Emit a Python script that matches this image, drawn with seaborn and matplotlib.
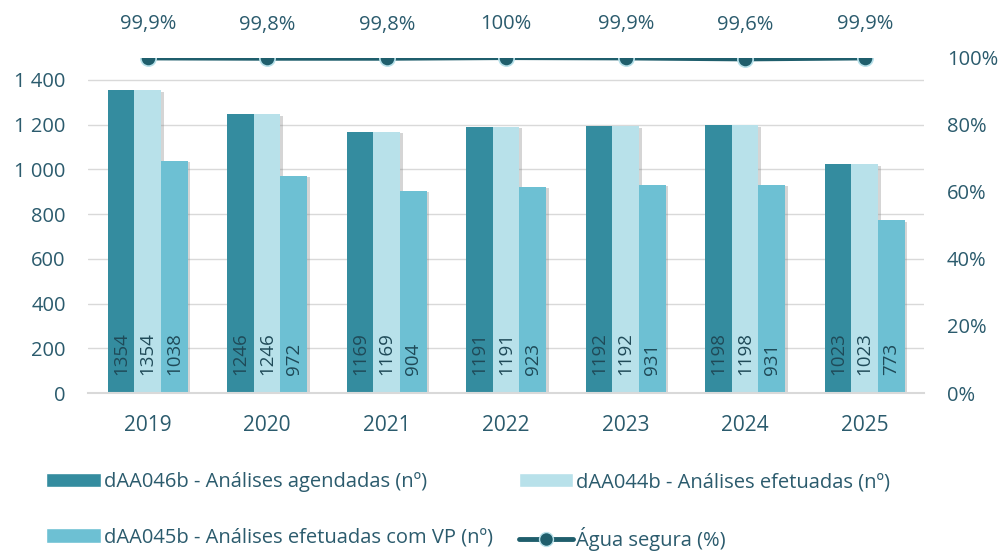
import numpy as np
import pandas as pd
import seaborn as sns
import matplotlib.pyplot as plt
import matplotlib.patheffects as pe
from matplotlib.patches import Patch
from matplotlib.lines import Line2D
from matplotlib.ticker import FuncFormatter

# Data
anos = ["2019", "2020", "2021", "2022", "2023", "2024", "2025"]
agendadas = [1354, 1246, 1169, 1191, 1192, 1198, 1023]
efetuadas = [1354, 1246, 1169, 1191, 1192, 1198, 1023]
efetuadas_vp = [1038, 972, 904, 923, 931, 931, 773]
agua_segura = [99.9, 99.8, 99.8, 100, 99.9, 99.6, 99.9]
agua_labels = ["99,9%", "99,8%", "99,8%", "100%", "99,9%", "99,6%", "99,9%"]

series = ["dAA046b - Análises agendadas (nº)",
          "dAA044b - Análises efetuadas (nº)",
          "dAA045b - Análises efetuadas com VP (nº)"]
line_name = "Água segura (%)"

cores = ["#348C9F", "#B8E1EA", "#6DC0D3"]
cor_linha = "#1F5E6C"
cor_texto = "#2B5B6D"

df = pd.DataFrame({
    "ano": anos * 3,
    "valor": agendadas + efetuadas + efetuadas_vp,
    "serie": [series[0]] * 7 + [series[1]] * 7 + [series[2]] * 7,
})

sns.set_theme(style="white")
plt.rcParams['font.family'] = ['Open Sans', 'DejaVu Sans']

fig = plt.figure(figsize=(10.03, 5.54), dpi=100)
ax = fig.add_axes([0.0877, 0.2906, 0.834, 0.6054])

sns.barplot(data=df, x="ano", y="valor", hue="serie", palette=cores,
            saturation=1, width=0.667, ax=ax, legend=False, edgecolor="none")

shadow = [pe.SimplePatchShadow(offset=(2, -1), shadow_rgbFace="#888888", alpha=0.35), pe.Normal()]
for cont in ax.containers:
    for bar in cont:
        bar.set_path_effects(shadow)
        h = bar.get_height()
        ax.text(bar.get_x() + bar.get_width() / 2, 80, f"{h:.0f}",
                rotation=90, ha="center", va="bottom", fontsize=13.5,
                color="#1F4A58")

ax.set_xlim(-0.5, 6.5)
ax.set_ylim(0, 1500)
ax.set_yticks(range(0, 1401, 200))
ax.yaxis.set_major_formatter(FuncFormatter(lambda v, p: f"{int(v):,}".replace(",", " ")))
ax.grid(axis="y", color="#D9D9D9", linewidth=1)
ax.set_axisbelow(True)
for s in ["top", "right", "left"]:
    ax.spines[s].set_visible(False)
ax.spines["bottom"].set_color("#D9D9D9")
ax.spines["bottom"].set_linewidth(1.5)
ax.set_xlabel("")
ax.set_ylabel("")
ax.tick_params(axis="x", length=0, labelsize=15, colors=cor_texto, pad=16)
ax.tick_params(axis="y", length=0, labelsize=14.5, colors=cor_texto, pad=16)

ax2 = ax.twinx()
x = np.arange(len(anos))
sns.lineplot(x=x, y=np.array(agua_segura) / 100, ax=ax2, color=cor_linha,
             linewidth=3.5, marker="o", markersize=11,
             markeredgecolor="#B8E1EA", markeredgewidth=1.2)
ax2.set_ylim(0, 1.0)
ax2.set_yticks(np.arange(0, 1.01, 0.2))
ax2.yaxis.set_major_formatter(FuncFormatter(lambda v, p: f"{v*100:.0f}%"))
ax2.tick_params(axis="y", length=0, labelsize=14.5, colors=cor_texto, pad=16)
for s in ax2.spines.values():
    s.set_visible(False)
ax2.set_ylabel("")
ax2.grid(False)

for xi, yi, lab in zip(x, agua_segura, agua_labels):
    ax2.annotate(lab, (xi, yi / 100), xytext=(0, 17), textcoords="offset points",
                 ha="center", va="bottom", fontsize=14.5, color=cor_texto)

# legend (column-major ordering)
handles = [
    Patch(facecolor=cores[0], label=series[0]),
    Patch(facecolor=cores[2], label=series[2]),
    Patch(facecolor=cores[1], label=series[1]),
    Line2D([0], [0], color=cor_linha, linewidth=3.5, marker="o", markersize=10,
           markeredgecolor="#B8E1EA", label=line_name),
]
leg = fig.legend(handles=handles, loc="lower left", bbox_to_anchor=(0.028, -0.028),
                 ncol=2, frameon=False, fontsize=14.5, handlelength=2.7,
                 handleheight=0.72, handletextpad=0.15, labelspacing=1.75,
                 columnspacing=1.3)
for t in leg.get_texts():
    t.set_color(cor_texto)

fig.savefig("out.png", dpi=100)
